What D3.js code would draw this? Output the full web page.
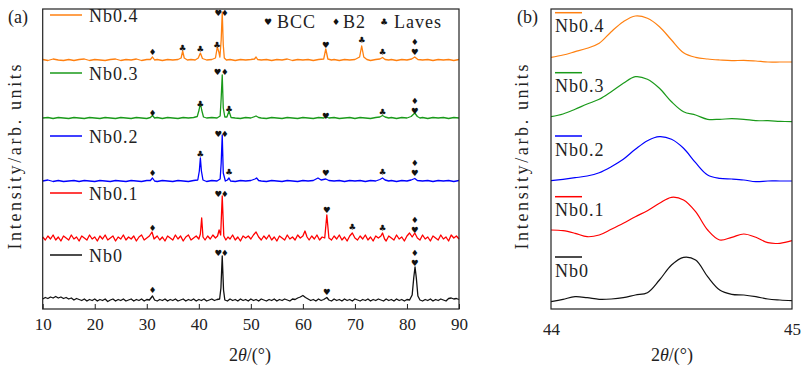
<!DOCTYPE html>
<html>
<head>
<meta charset="utf-8">
<script src="https://cdn.jsdelivr.net/npm/d3@7"></script>
<style>
  body { margin: 0; background: #fff; }
  text { font-family: "Liberation Serif", serif; fill: #222; }
  .sym { font-family: "DejaVu Sans", sans-serif; fill: #111; }
</style>
</head>
<body>
<div id="chart"></div>
<script>
// ---- data (intensity, arbitrary units) ----
const samples = ["Nb0", "Nb0.1", "Nb0.2", "Nb0.3", "Nb0.4"]
const colors = ["#111111", "#ff0000", "#0000ff", "#1a9a1a", "#ff8010"]
const offsets = [9, 71, 128, 191, 249]
const xTicksA = [10, 20, 30, 40, 50, 60, 70, 80, 90]
const xTicksB = [44, 45]

const nb0 = [[10,1],[10.5,2.5],[11,1.5],[11.5,3],[12,2],[12.5,3.5],[13,2],[13.5,3],[14,1.5],[14.5,2.5],[15,1],[15.5,2],[16,0],[16.5,1.5],[17,0.5],[17.5,-0.5],[18,1],[18.5,-1],[19,0.5],[19.5,-0.5],[20,1],[20.5,-1],[21,0.5],[21.5,-0.5],[22,1],[22.5,-1.5],[23,0],[23.5,1],[24,-1],[24.5,0.5],[25,-0.5],[25.5,1],[26,-1],[26.5,0],[27,1],[27.5,-1],[28,0.5],[28.5,-0.5],[29,1],[29.5,-1],[30,0.5],[30.5,0],[31.1,4],[31.5,0],[32,-1],[32.5,0.5],[33,-0.5],[33.5,1],[34,-1],[34.5,0.5],[35,-0.5],[35.5,1],[36,-1],[36.5,0],[37,1],[37.5,-1],[38,0.5],[38.5,-0.5],[39,1],[39.5,-1],[40,0.5],[40.5,-0.5],[41,1],[41.5,-1],[42,0],[42.5,1],[43,-0.5],[43.5,0.5],[44,1],[44.25,12],[44.5,44],[44.75,10],[45,0],[45.5,-1],[46,1],[46.5,-0.5],[47,0.5],[47.5,-1],[48,1],[48.5,-0.5],[49,0.5],[49.5,-1],[50,1],[50.5,-0.5],[51,0.5],[51.5,-1],[52,1],[52.5,0],[53,-1],[53.5,0.5],[54,-0.5],[54.5,1],[55,-1],[55.5,0.5],[56,-0.5],[56.5,1],[57,0],[57.5,-1],[58,1],[58.5,0.5],[59,2],[59.5,3],[60,4.5],[60.5,2.5],[61,1],[61.5,-0.5],[62,0.5],[62.5,-1],[63,1],[63.5,-0.5],[64,0.5],[64.6,2.5],[65,0],[65.5,-1],[66,1],[66.5,-0.5],[67,0.5],[67.5,-1],[68,1],[68.5,-0.5],[69,0.5],[69.5,-1],[70,1],[70.5,0],[71,-1],[71.5,0.5],[72,-0.5],[72.5,1],[73,-1],[73.5,0.5],[74,-0.5],[74.5,1],[75,0],[75.5,-1],[76,1],[76.5,-0.5],[77,0.5],[77.5,-1],[78,1],[78.5,-0.5],[79,0.5],[79.5,-1],[80,0.5],[80.5,0],[81,5],[81.3,22],[81.55,33],[81.8,22],[82.1,4],[82.5,0],[83,-1],[83.5,0.5],[84,-0.5],[84.5,1],[85,-1],[85.5,0.5],[86,-0.5],[86.5,1],[87,0],[87.5,-1],[88,1.5],[88.5,2],[89,1],[89.5,1.5],[90,0.5]]

const nb01 = [[10,1],[10.5,-2],[11,2],[11.5,-1],[12,3],[12.5,-2],[13,1],[13.5,-3],[14,2],[14.5,0],[15,-2],[15.5,3],[16,-1],[16.5,1],[17,-3],[17.5,2],[18,0],[18.5,-2],[19,3],[19.5,-1],[20,1],[20.5,-3],[21,2],[21.5,-1],[22,3],[22.5,-2],[23,0],[23.5,2],[24,-3],[24.5,1],[25,-1],[25.5,3],[26,-2],[26.5,1],[27,-1],[27.5,2],[28,-3],[28.5,1],[29,3],[29.5,-2],[30,0],[30.5,2],[31,6],[31.4,-1],[32,2],[32.5,-2],[33,1],[33.5,-3],[34,2],[34.5,0],[35,-2],[35.5,3],[36,-1],[36.5,2],[37,-3],[37.5,1],[38,3],[38.5,-2],[39,0],[39.5,2],[40,-1],[40.3,4],[40.55,20],[40.8,1],[41.2,-2],[41.7,2],[42.2,-1],[42.7,3],[43.2,0],[43.6,2],[43.9,8],[44.2,3],[44.5,42],[44.8,2],[45.2,-2],[45.6,1],[46,-1],[46.5,3],[47,-2],[47.5,1],[48,-3],[48.5,2],[49,0],[49.5,2],[50,-1],[50.5,3],[51,6],[51.5,1],[52,-2],[52.5,2],[53,-1],[53.5,3],[54,-2],[54.5,1],[55,-3],[55.5,2],[56,0],[56.5,-2],[57,3],[57.5,-1],[58,1],[58.5,-2],[59,3],[59.5,0],[60,2],[60.4,7],[60.8,1],[61.2,-2],[61.7,2],[62.2,-1],[62.7,3],[63.2,-2],[63.7,1],[64.2,0],[64.6,23],[65,0],[65.5,-2],[66,2],[66.5,-1],[67,3],[67.5,-2],[68,1],[68.5,-3],[69,2],[69.5,5],[70,0],[70.5,-2],[71,2],[71.5,-1],[72,3],[72.5,-2],[73,1],[73.5,-3],[74,2],[74.5,0],[75,2],[75.3,5],[75.7,-1],[76,-3],[76.5,2],[77,0],[77.5,-2],[78,3],[78.5,-1],[79,1],[79.5,-3],[80,2],[80.5,5],[81,1],[81.5,5],[82,0],[82.5,-2],[83,3],[83.5,-1],[84,1],[84.5,-3],[85,2],[85.5,0],[86,-2],[86.5,3],[87,-1],[87.5,1],[88,-3],[88.5,3],[89,0],[89.5,2],[90,-1]]

const nb02 = [[10,0],[11,1],[12,-0.5],[13,0.5],[14,-0.5],[15,0],[16,0.5],[17,-0.5],[18,0.5],[19,0],[20,-0.5],[21,0.5],[22,0],[23,-0.5],[24,0.5],[25,0],[26,-0.5],[27,0.5],[28,0],[29,-0.5],[30,0.5],[30.7,0.5],[31.1,3],[31.5,0],[32,-0.5],[33,0.5],[34,0],[35,-0.5],[36,0.5],[37,0],[38,-0.5],[39,0.5],[39.8,1],[40.1,10],[40.3,23],[40.5,10],[40.8,1],[41.5,-0.5],[42.5,0.5],[43.5,0],[44.1,2],[44.3,18],[44.5,46],[44.7,8],[45.1,0],[45.5,1],[45.8,3],[46.1,0],[47,-0.5],[48,0.5],[49,0],[50,0.5],[50.8,2],[51.1,3],[51.5,0.5],[52,0],[53,-0.5],[54,0.5],[55,0],[56,-0.5],[57,0.5],[58,0],[59,-0.5],[60,0.5],[61,0],[62,0.5],[62.9,3],[63.5,1],[64.4,2],[65,0.5],[66,0],[67,0.5],[68,-0.5],[69,0.5],[70,0],[71,0.5],[72,-0.5],[73,0.5],[74,0],[74.8,1.5],[75.3,3],[75.8,1],[76.5,0],[77,0.5],[78,-0.5],[79,0.5],[80,0],[80.8,1],[81.5,2.5],[82,0.5],[83,0],[84,0.5],[85,-0.5],[86,0.5],[87,0],[88,0.5],[89,-0.5],[90,0.5]]

const nb03 = [[10,0],[11,0.5],[12,-0.5],[13,0.5],[14,0],[15,-0.5],[16,0.5],[17,0],[18,-0.5],[19,0.5],[20,0],[21,-0.5],[22,0.5],[23,0],[24,-0.5],[25,0.5],[26,0],[27,-0.5],[28,0.5],[29,0],[30,-0.5],[30.7,0.5],[31.1,2.5],[31.5,0],[32,0.5],[33,-0.5],[34,0.5],[35,0],[36,-0.5],[37,0.5],[38,0],[39,0.5],[39.7,1.5],[40.05,8],[40.3,15],[40.55,8],[40.9,1],[41.5,0],[42.5,0.5],[43.5,0],[44.1,2],[44.3,20],[44.5,43],[44.7,10],[45,1],[45.4,1],[45.8,7],[46.2,0.5],[47,0],[48,-0.5],[49,0.5],[50,0],[51,2],[51.5,0.5],[52,0],[53,-0.5],[54,0.5],[55,0],[56,-0.5],[57,0.5],[58,0],[59,-0.5],[60,0.5],[61,0],[62,-0.5],[63,0.5],[64,0],[64.5,1],[65,0],[66,0.5],[67,-0.5],[68,0],[69,0.5],[70,-0.5],[71,0.5],[72,0],[73,-0.5],[74,0.5],[74.8,1],[75.3,2.5],[75.8,1],[76.5,0],[77,0.5],[78,-0.5],[79,0.5],[80,0],[80.8,1.5],[81.5,5],[82,1.5],[82.5,0],[83,0.5],[84,-0.5],[85,0.5],[86,0],[87,0.5],[88,-0.5],[89,0.5],[90,0]]

const nb04 = [[10,0.5],[11,-0.5],[12,1],[13,0],[14,-0.5],[15,0.5],[16,-0.5],[17,0.5],[18,1],[19,-0.5],[20,0.5],[21,0],[22,-0.5],[23,0.5],[24,1],[25,-0.5],[26,0.5],[27,0],[28,1],[29,-0.5],[30,0.5],[30.7,0.5],[31.1,3],[31.5,0],[32,0.5],[33,-0.5],[34,0.5],[35,0],[36,0.5],[36.6,2],[36.9,9],[37.2,2],[37.8,0],[38.5,0.5],[39.3,0],[39.9,2],[40.3,7],[40.7,1.5],[41.5,0],[42.5,0.5],[43.2,2],[43.55,13],[43.85,8],[44.05,3],[44.3,20],[44.5,48],[44.7,15],[44.9,2],[45.3,0],[46,0.5],[47,-0.5],[48,0.5],[49,0],[50,0.5],[50.7,1],[51,3],[51.3,0.5],[52,0],[53,0.5],[54,-0.5],[55,0.5],[56,0],[57,1],[58,-0.5],[59,0.5],[60,0],[61,0.5],[62,-0.5],[63,0.5],[64,1],[64.4,11],[64.8,1],[65.5,0],[66,0.5],[67,-0.5],[68,0.5],[69,0],[70,0.5],[70.9,3],[71.3,14],[71.7,3],[72.3,0.5],[73,-0.5],[74,0.5],[74.8,1],[75.3,2.5],[75.8,0.5],[76.5,0],[77,0.5],[78,-0.5],[79,0.5],[80,0],[80.9,1],[81.5,3],[82.1,0.5],[83,0],[84,0.5],[85,-0.5],[86,0.5],[87,0],[88,0.5],[89,-0.5],[90,0.5]]

// phase markers: [2theta, phase, height above the trace baseline]
const marksNb0 = [[31.1,"B2",10],[43.75,"BCC",47],[45.0,"B2",47],[64.6,"BCC",8],[81.5,"B2",47],[81.5,"BCC",37]]
const marksNb01 = [[31.1,"B2",10],[43.75,"BCC",44],[45.0,"B2",44],[64.6,"BCC",28],[69.5,"Laves",11],[75.3,"Laves",10],[81.5,"B2",18],[81.5,"BCC",8]]
const marksNb02 = [[31.1,"B2",8],[40.3,"Laves",27],[43.75,"BCC",47],[45.0,"B2",47],[45.8,"Laves",9],[64.4,"BCC",8],[75.3,"Laves",9],[81.5,"B2",18],[81.5,"BCC",8]]
const marksNb03 = [[31.1,"B2",5],[40.3,"Laves",14],[43.6,"BCC",46],[45.0,"B2",46],[45.8,"Laves",9],[64.4,"BCC",2.5],[75.3,"Laves",6],[81.5,"B2",17.5],[81.5,"BCC",7.5]]
const marksNb04 = [[31.1,"B2",8],[36.9,"Laves",12],[40.3,"Laves",11],[43.5,"Laves",15],[43.75,"BCC",47],[45.0,"B2",47],[64.4,"BCC",15],[71.3,"Laves",20],[75.3,"Laves",8],[81.5,"B2",18],[81.5,"BCC",8]]

const phases = ["BCC", "B2", "Laves"]
const phaseSymbols = ["\u2665", "\u2666", "\u2663"]

// zoomed 44-45 degree window (stacked intensity)
const twoThetaB = [44,44.05,44.1,44.15,44.2,44.25,44.3,44.35,44.4,44.45,44.5,44.55,44.6,44.65,44.7,44.75,44.8,44.85,44.9,44.95,45]
const zNb0 = [7.3,9.7,12.3,11.3,9.7,10,11.3,14,16.3,29,44,51.7,49,32.3,19,14.7,14,12.3,10,9,8.3]
const zNb01 = [79,78.3,75.7,72.3,74,79.7,85.7,92.3,98.3,105.7,111.7,109,97.3,79,69,71.7,75,71.7,66.3,65.7,68.3]
const zNb02 = [128.3,129.7,131.3,133,136.3,142.3,149.7,159.7,168.3,172.3,169.7,160.7,146.3,134,130.7,130,129,127.3,128,128,128]
const zNb03 = [192.3,195,199.7,205,209.7,217.3,225.7,232.3,229.7,220.7,207.3,197.3,194,189.7,189.7,190.3,189.7,188.3,188.3,187.7,187.3]
const zNb04 = [251.7,254,257.3,260.7,265.7,277.3,287.3,293,290.7,282.3,269,256.3,251.7,250,249,248.3,248.7,248,247,247,247]

const traces = [nb0, nb01, nb02, nb03, nb04]
const marks = [marksNb0, marksNb01, marksNb02, marksNb03, marksNb04]
const zoomTraces = [zNb0, zNb01, zNb02, zNb03, zNb04]

// ---- layout ----
const W = 802, H = 371
const plotTop = 9, plotBottom = 309
const svg = d3.select("#chart").append("svg").attr("width", W).attr("height", H)

const xA = d3.scaleLinear().domain([10, 90]).range([42.7, 459])
const xB = d3.scaleLinear().domain([44, 45]).range([551, 792])
const y = d3.scaleLinear().domain([0, 300]).range([plotBottom, plotTop])

// ---- panel (a) ----
const gA = svg.append("g")

const lineA = d3.line().x(d => xA(d[0]))

traces.forEach((t, i) => {
    gA.append("path")
      .datum(t)
      .attr("fill", "none")
      .attr("stroke", colors[i])
      .attr("stroke-width", 1.3)
      .attr("stroke-linejoin", "round")
      .attr("d", lineA.y(d => y(d[1] + offsets[i])))
})

// markers sharing one 2theta are stacked inside a single text element
marks.forEach((m, i) => {
    const stacks = Array.from(d3.group(m, d => d[0]).values())
    const texts = gA.selectAll(null)
                    .data(stacks)
                    .enter().append("text")
                    .attr("class", "sym")
                    .attr("text-anchor", "middle")
                    .attr("dominant-baseline", "central")
                    .attr("font-size", 8.5)
    texts.selectAll("tspan")
         .data(d => d)
         .enter().append("tspan")
         .attr("x", d => xA(d[0]))
         .attr("y", d => y(d[2] + offsets[i]))
         .text(d => phaseSymbols[phases.indexOf(d[1])])
})

// legend lines (a)
samples.forEach((s, i) => {
    const ly = y(offsets[i] + 45)
    gA.append("line")
      .attr("x1", 50).attr("x2", 82)
      .attr("y1", ly).attr("y2", ly)
      .attr("stroke", colors[i]).attr("stroke-width", 1.5)
    gA.append("text")
      .attr("x", 89).attr("y", ly + 7)
      .attr("font-size", 18)
      .attr("letter-spacing", 1)
      .text(s)
})

// phase legend
const phaseLegend = [[268, 277], [336, 343], [384, 394]]
phases.forEach((p, i) => {
    gA.append("text")
      .attr("class", "sym")
      .attr("x", phaseLegend[i][0]).attr("y", 22)
      .attr("text-anchor", "middle")
      .attr("dominant-baseline", "central")
      .attr("font-size", 9)
      .text(phaseSymbols[i])
    gA.append("text")
      .attr("x", phaseLegend[i][1]).attr("y", 27.5)
      .attr("font-size", 18)
      .attr("letter-spacing", 1)
      .text(p)
})

gA.append("g")
  .attr("transform", "translate(0," + plotBottom + ")")
  .call(d3.axisBottom(xA).tickValues(xTicksA).tickSizeInner(-5).tickSizeOuter(0).tickPadding(9))
  .call(g => g.select(".domain").remove())
  .call(g => g.selectAll("line").attr("stroke", "#222"))
  .call(g => g.selectAll("text").attr("font-size", 17).attr("font-family", "Liberation Serif").attr("fill", "#222"))

gA.append("rect")
  .attr("x", xA(10)).attr("y", plotTop)
  .attr("width", xA(90) - xA(10)).attr("height", plotBottom - plotTop)
  .attr("fill", "none").attr("stroke", "#222").attr("stroke-width", 1.2)

// ---- panel (b) ----
const gB = svg.append("g")
const lineB = d3.line()
                .x((d, j) => xB(twoThetaB[j]))
                .y(d => y(d))
                .curve(d3.curveCatmullRom.alpha(0.5))

zoomTraces.forEach((t, i) => {
    gB.append("path")
      .datum(t)
      .attr("fill", "none")
      .attr("stroke", colors[i])
      .attr("stroke-width", 1.2)
      .attr("d", lineB)
})

const legendYB = [257, 196.7, 136, 72.7, 12.7]
samples.forEach((s, i) => {
    gB.append("line")
      .attr("x1", 555).attr("x2", 582)
      .attr("y1", legendYB[i]).attr("y2", legendYB[i])
      .attr("stroke", colors[i]).attr("stroke-width", 1.5)
    gB.append("text")
      .attr("x", 555).attr("y", legendYB[i] + 19.5)
      .attr("font-size", 18)
      .attr("letter-spacing", 1)
      .text(s)
})

gB.append("g")
  .attr("transform", "translate(0," + plotBottom + ")")
  .call(d3.axisBottom(xB).tickValues(xTicksB).tickFormat(d3.format("d")).tickSize(0).tickPadding(14))
  .call(g => g.select(".domain").remove())
  .call(g => g.selectAll("text").attr("font-size", 17).attr("font-family", "Liberation Serif").attr("fill", "#222"))

gB.append("rect")
  .attr("x", xB(44)).attr("y", plotTop)
  .attr("width", xB(45) - xB(44)).attr("height", plotBottom - plotTop)
  .attr("fill", "none").attr("stroke", "#222").attr("stroke-width", 1.2)

// ---- labels ----
function xLabel(cx) {
    const t = svg.append("text").attr("x", cx).attr("y", 361)
                 .attr("text-anchor", "middle").attr("font-size", 18)
    t.append("tspan").text("2")
    t.append("tspan").attr("font-style", "italic").text("\u03b8")
    t.append("tspan").text("/(\u00b0)")
}
xLabel(250)
xLabel(672)

function yLabel(cx) {
    svg.append("text")
       .attr("transform", "translate(" + cx + ",157) rotate(-90)")
       .attr("text-anchor", "middle")
       .attr("font-size", 18)
       .attr("textLength", 185)
       .attr("lengthAdjust", "spacing")
       .text("Intensity/arb. units")
}
yLabel(21)
yLabel(528)

svg.append("text").attr("x", 8).attr("y", 23).attr("font-size", 18).text("(a)")
svg.append("text").attr("x", 517).attr("y", 23).attr("font-size", 18).text("(b)")
</script>
</body>
</html>
